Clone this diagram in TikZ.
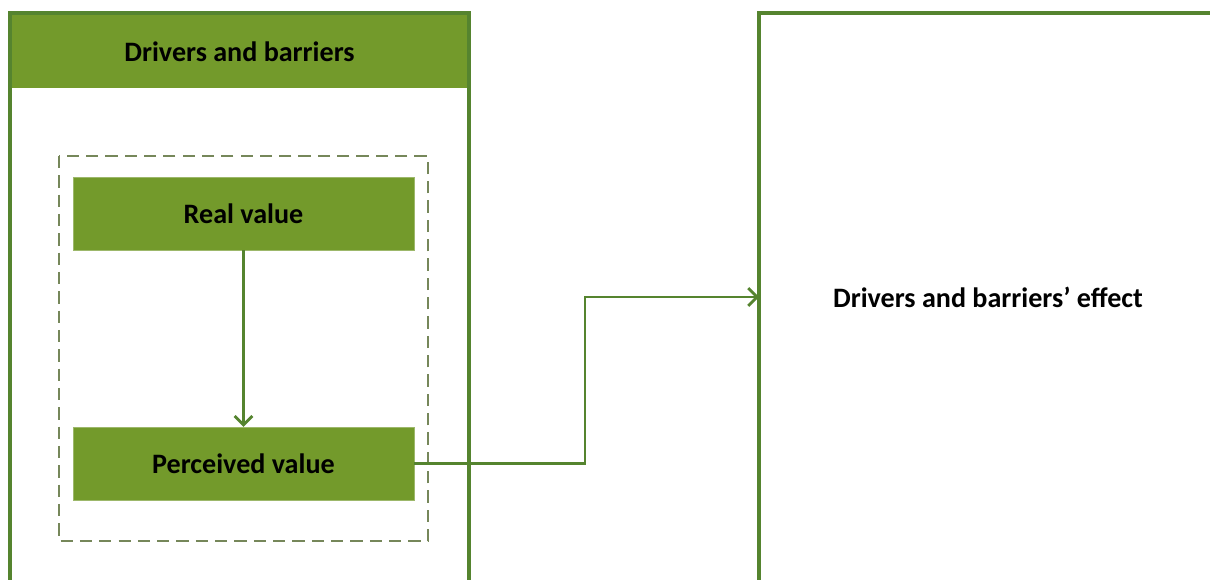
\documentclass[tikz,border=0pt]{standalone}
\usepackage{fontspec}
\setmainfont{Carlito}
\usetikzlibrary{arrows.meta}
\definecolor{boxgreen}{HTML}{739A2B}
\definecolor{linegreen}{HTML}{55842F}
\definecolor{dashgreen}{HTML}{76875A}

\begin{document}
\begin{tikzpicture}[x=0.02cm, y=-0.02cm,
    frame/.style={draw=linegreen, line width=2pt},
    valuebox/.style={rectangle, fill=boxgreen, draw=boxgreen!70!white, line width=0.3pt, minimum width=6.82cm, minimum height=1.46cm, inner sep=0pt, font=\fontsize{16}{19}\selectfont\bfseries},
    label/.style={inner sep=0pt, font=\fontsize{16}{19}\selectfont\bfseries},
    link/.style={draw=linegreen, line width=1.6pt, -{Straight Barb[length=5pt, width=10pt, line width=1.6pt]}}]
    \useasboundingbox (0,0) rectangle (1210,579);
    \clip (0,0) rectangle (1210,579);

    % Left block: drivers and barriers
    \fill[boxgreen] (10,13) rectangle (469,88);
    \draw[frame] (10,600) -- (10,13) -- (469,13) -- (469,600);
    \node[label] (title) at (239.5,52) {Drivers and barriers};
    \draw[dashgreen, line width=1pt, dash pattern=on 7pt off 4pt] (59,156) rectangle (428,541);
    \node[valuebox] (real) at (243.5,213.5) {Real value};
    \node[valuebox] (perceived) at (243.5,463.5) {Perceived value};

    % Right block: effect
    \draw[frame] (759,600) -- (759,13) -- (1230,13);
    \node[label] (effect) at (988,297) {Drivers and barriers’ effect};
    \coordinate (mid) at (585,380);
    \coordinate (in) at (759,297);

    % Links
    \draw[link] (real) -- (perceived);
    \draw[link] (perceived.east) -| (mid) |- (in);
\end{tikzpicture}
\end{document}
